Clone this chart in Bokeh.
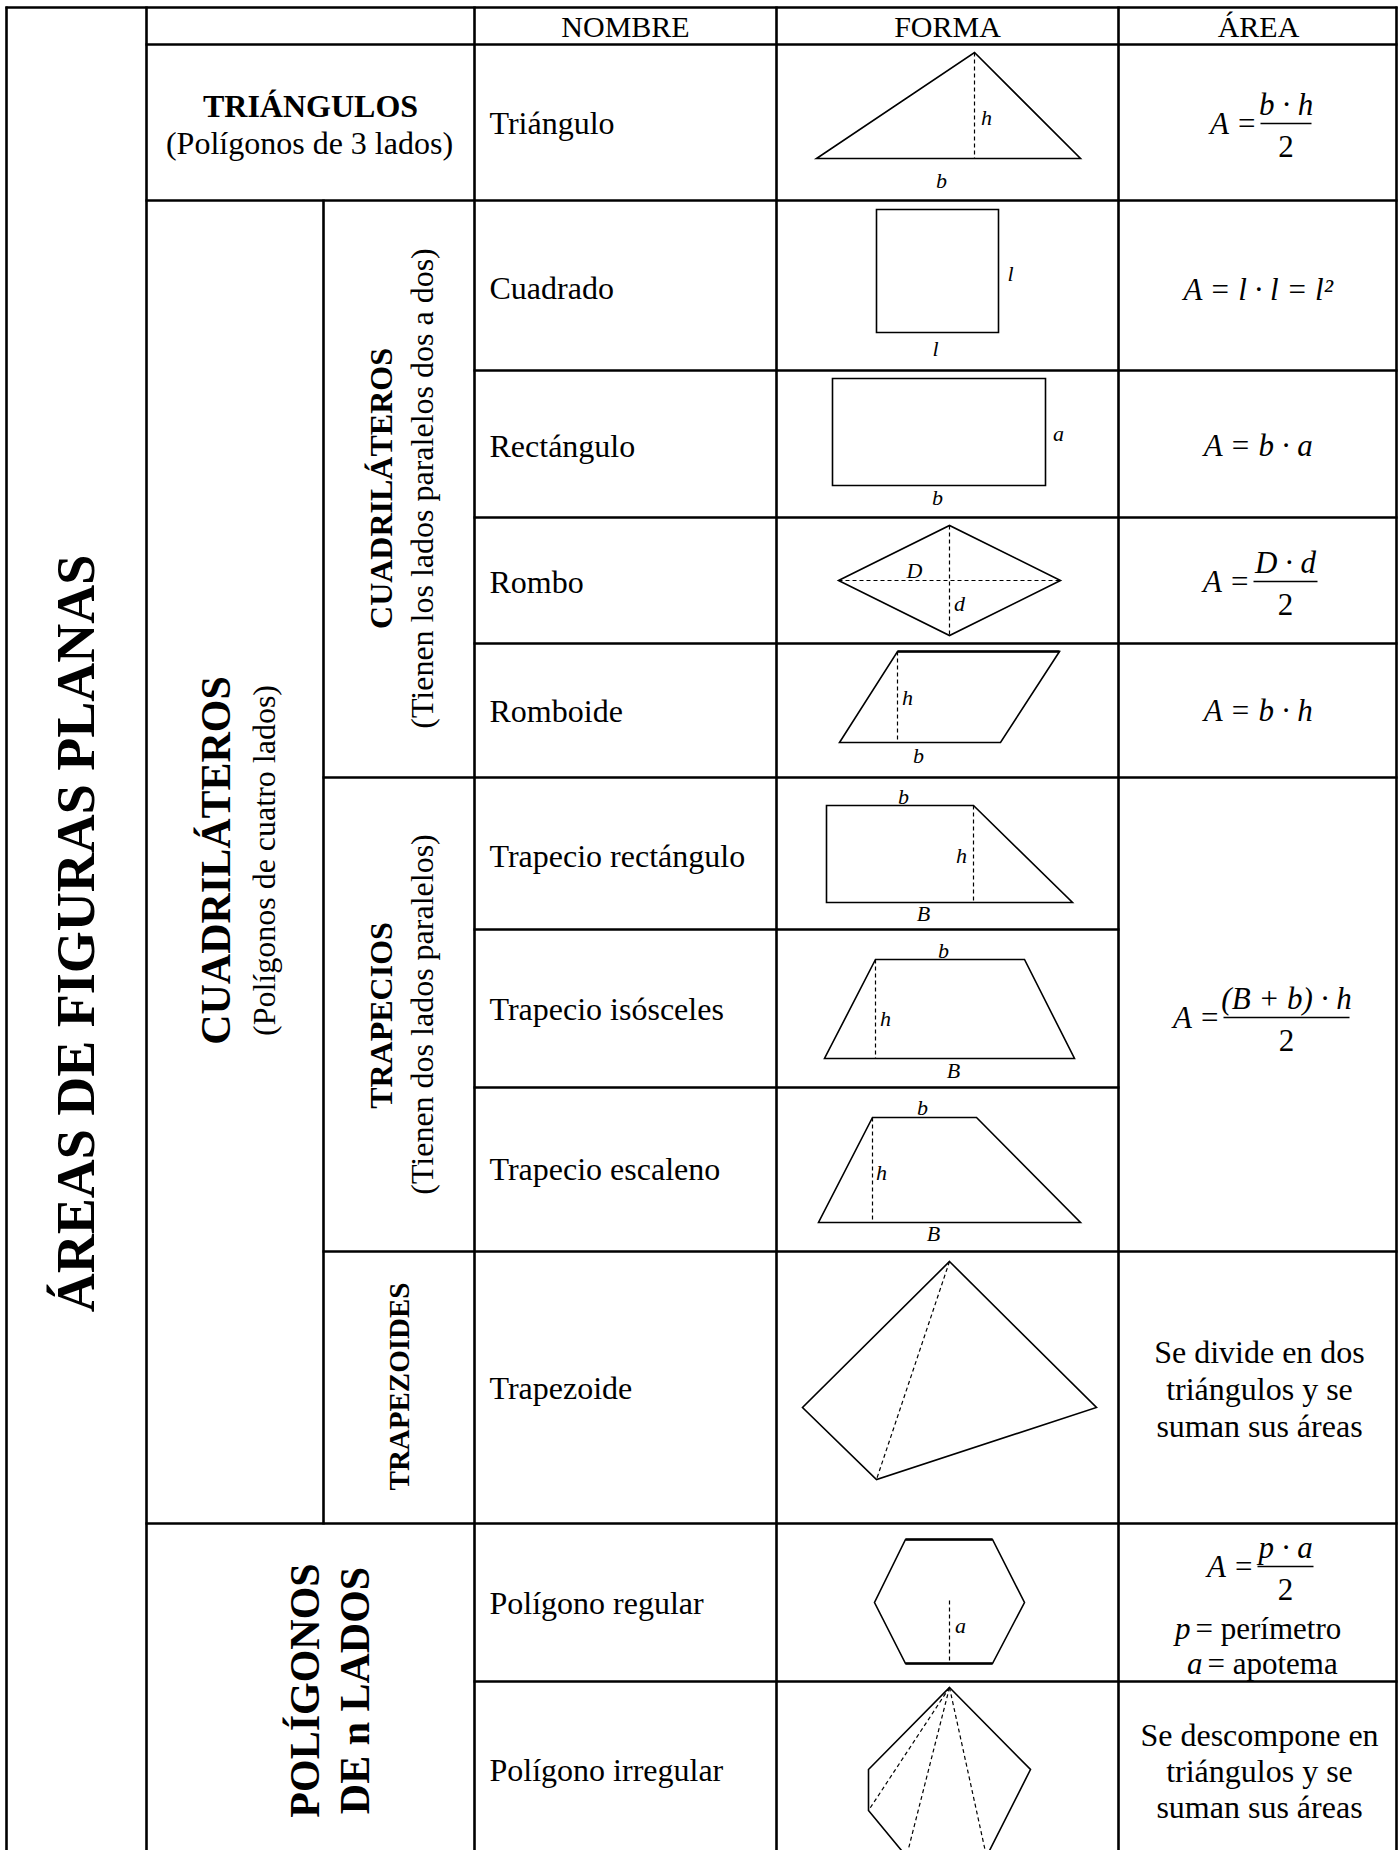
import math
from bokeh.plotting import figure
from bokeh.models import Range1d, ColumnDataSource
from bokeh.core.properties import value
from bokeh.embed import file_html
from bokeh.resources import INLINE

SERIF = "Liberation Serif"

# ---------------- table grid ----------------
col_x = [6, 146, 323, 474, 776, 1118, 1396]
row_y = [7, 44, 200, 370, 517, 643, 777, 929, 1087, 1251, 1523, 1681]
bottom_y = 1880
# (row index, from column index, to column index)
h_rules = [(0, 0, 6), (1, 1, 6), (2, 1, 6), (3, 3, 6), (4, 3, 6), (5, 3, 6),
           (6, 2, 6), (7, 3, 5), (8, 3, 5), (9, 2, 6), (10, 1, 6), (11, 3, 6)]
# (column index, from row index, to row index or None = bottom)
v_rules = [(0, 0, None), (1, 0, None), (2, 2, 10), (3, 0, None),
           (4, 0, None), (5, 0, None), (6, 0, None)]

# ---------------- header ----------------
header_labels = ["NOMBRE", "FORMA", "ÁREA"]
header_x = [625, 947, 1258]
header_y = [26, 26, 26]

# ---------------- names ----------------
names = ["Triángulo", "Cuadrado", "Rectángulo", "Rombo", "Romboide",
         "Trapecio rectángulo", "Trapecio isósceles", "Trapecio escaleno",
         "Trapezoide", "Polígono regular", "Polígono irregular"]
names_y = [122, 287, 445, 581, 710, 855, 1008, 1168, 1387, 1602, 1769]
names_x = [489] * len(names)

# ---------------- shapes ----------------
triangulo_x = [816, 1080, 974]
triangulo_y = [158, 158, 52]
cuadrado_x = [876, 998, 998, 876]
cuadrado_y = [209, 209, 332, 332]
rectangulo_x = [832, 1045, 1045, 832]
rectangulo_y = [378, 378, 485, 485]
rombo_x = [838, 949, 1060, 949]
rombo_y = [580, 525, 580, 635]
romboide_x = [839, 1000, 1059, 897]
romboide_y = [742, 742, 651, 651]
trap_rect_x = [826, 973, 1072, 826]
trap_rect_y = [805, 805, 902, 902]
trap_iso_x = [875, 1024, 1074, 824]
trap_iso_y = [959, 959, 1058, 1058]
trap_esc_x = [872, 976, 1080, 818]
trap_esc_y = [1117, 1117, 1222, 1222]
trapezoide_x = [949, 1096, 876, 802]
trapezoide_y = [1261, 1407, 1479, 1407]
hexagono_x = [905, 992, 1024, 992, 905, 874]
hexagono_y = [1539, 1539, 1602, 1663, 1663, 1602]
irregular_x = [949, 1030, 986, 906, 868, 868]
irregular_y = [1687, 1769, 1856, 1856, 1810, 1769]

# thicker edges (top of romboide, top/bottom of hexagon)
thick_x = [[897, 1059], [905, 992], [905, 992]]
thick_y = [[651, 651], [1539, 1539], [1663, 1663]]

# dashed auxiliary lines
dash_x = [[974, 974], [949, 949], [838, 1060], [897, 897], [973, 973],
          [875, 875], [872, 872], [949, 876], [949, 949],
          [949, 868], [949, 906], [949, 986]]
dash_y = [[52, 158], [525, 635], [580, 580], [651, 742], [805, 902],
          [959, 1058], [1117, 1222], [1261, 1479], [1600, 1663],
          [1687, 1810], [1687, 1856], [1687, 1856]]

# shape labels
lbl_text = ["h", "b", "l", "l", "a", "b", "D", "d", "h", "b",
            "b", "h", "B", "b", "h", "B", "b", "h", "B", "a"]
lbl_x = [986, 941, 1010, 935, 1058, 937, 914, 959, 907, 918,
         903, 961, 923, 943, 885, 953, 922, 881, 933, 960]
lbl_y = [117, 180, 273, 348, 433, 497, 570, 603, 697, 755,
         796, 855, 913, 950, 1018, 1070, 1107, 1172, 1233, 1625]

# ---------------- area formulas ----------------
simple_formulas = ["A = l · l = l²", "A = b · a", "A = b · h"]
simple_x = [1258, 1258, 1258]
simple_y = [289, 445, 710]

frac_num = ["b · h", "D · d", "(B + b) · h", "p · a"]
frac_den = ["2", "2", "2", "2"]
frac_x0 = [1260, 1253, 1223, 1257]
frac_x1 = [1311, 1317, 1349, 1313]
frac_y = [123, 581, 1017, 1566]

text_lines = ["Se divide en dos", "triángulos y se", "suman sus áreas",
              "Se descompone en", "triángulos y se", "suman sus áreas"]
text_lines_x = [1259] * 6
text_lines_y = [1351, 1388, 1425, 1734, 1770, 1806]

var_sym = ["p", "a"]
var_desc = ["= perímetro", "= apotema"]
var_x = [1190, 1202]
var_y = [1628, 1663]

# ---------------- vertical / group labels ----------------
vert_text = ["ÁREAS DE FIGURAS PLANAS", "CUADRILÁTEROS", "(Polígonos de cuatro lados)",
             "CUADRILÁTEROS", "(Tienen los lados paralelos dos a dos)",
             "TRAPECIOS", "(Tienen dos lados paralelos)", "TRAPEZOIDES",
             "POLÍGONOS", "DE n LADOS"]
vert_x = [75, 215, 263, 380, 421, 380, 421, 398, 304, 354]
vert_y = [933, 860, 860, 488, 488, 1015, 1014, 1386, 1690, 1690]
vert_size = ["54px", "42px", "32px", "32px", "32px", "32px", "32px", "29px", "42px", "42px"]
vert_style = ["bold", "bold", "normal", "bold", "normal", "bold", "normal", "bold", "bold", "bold"]

tri_group = ["TRIÁNGULOS", "(Polígonos de 3 lados)"]
tri_group_x = [310, 309]
tri_group_y = [105, 142]
tri_group_style = ["bold", "normal"]

# ================= figure =================
W, H = 1399, 1850
p = figure(width=W, height=H, x_range=Range1d(0, W), y_range=Range1d(H, 0),
           output_backend="svg", toolbar_location=None,
           x_axis_location=None, y_axis_location=None, min_border=0)
p.grid.visible = False
p.outline_line_color = None
p.background_fill_color = "white"
p.border_fill_color = "white"

# table rules
hx, hy = [], []
for r, c0, c1 in h_rules:
    hx.append([col_x[c0] - 1, col_x[c1] + 1])
    hy.append([row_y[r], row_y[r]])
vx, vy = [], []
for c, r0, r1 in v_rules:
    vx.append([col_x[c], col_x[c]])
    vy.append([row_y[r0] - 1, bottom_y if r1 is None else row_y[r1] + 1])
p.multi_line(hx + vx, hy + vy, line_color="black", line_width=2.6)

# shapes
shapes_x = [triangulo_x, cuadrado_x, rectangulo_x, rombo_x, romboide_x, trap_rect_x,
            trap_iso_x, trap_esc_x, trapezoide_x, hexagono_x, irregular_x]
shapes_y = [triangulo_y, cuadrado_y, rectangulo_y, rombo_y, romboide_y, trap_rect_y,
            trap_iso_y, trap_esc_y, trapezoide_y, hexagono_y, irregular_y]
p.patches(shapes_x, shapes_y, fill_color=None, line_color="black", line_width=1.6,
          line_join="miter")
p.multi_line(thick_x, thick_y, line_color="black", line_width=2.6)
p.multi_line(dash_x, dash_y, line_color="black", line_width=1.2, line_dash="4 3")

font = value(SERIF)

def txt(x, y, t, size, style="normal", align="center", angle=0.0, baseline="middle"):
    src = ColumnDataSource(dict(x=x, y=y, t=t))
    p.text("x", "y", text="t", source=src, text_font=font, text_font_size=size,
           text_font_style=style, text_align=align, text_baseline=baseline,
           text_color="black", angle=angle)

# header
txt(header_x, header_y, header_labels, "30px")
# names
txt(names_x, names_y, names, "32px", align="left")
# shape labels
txt(lbl_x, lbl_y, lbl_text, "22px", style="italic")
# simple formulas
txt(simple_x, simple_y, simple_formulas, "31px", style="italic")
# fractions
fx, fy = [], []
for x0, x1, y in zip(frac_x0, frac_x1, frac_y):
    fx.append([x0, x1])
    fy.append([y, y])
p.multi_line(fx, fy, line_color="black", line_width=1.5)
mid = [(a + b) / 2 for a, b in zip(frac_x0, frac_x1)]
txt(mid, [y - 19 for y in frac_y], frac_num, "31px", style="italic")
txt(mid, [y + 23 for y in frac_y], frac_den, "31px")
txt([x - 3 for x in frac_x0], frac_y, ["A ="] * len(frac_y), "31px", style="italic", align="right")
# text cells
txt(text_lines_x, text_lines_y, text_lines, "32px")
txt(var_x, var_y, var_sym, "31px", style="italic", align="right")
txt([x + 5 for x in var_x], var_y, var_desc, "31px", align="left")
# group labels
for t, x, y, s, st in zip(vert_text, vert_x, vert_y, vert_size, vert_style):
    txt([x], [y], [t], s, style=st, angle=math.pi / 2)
for t, x, y, st in zip(tri_group, tri_group_x, tri_group_y, tri_group_style):
    txt([x], [y], [t], "32px", style=st)

open("out.html", "w").write(file_html(p, INLINE))
